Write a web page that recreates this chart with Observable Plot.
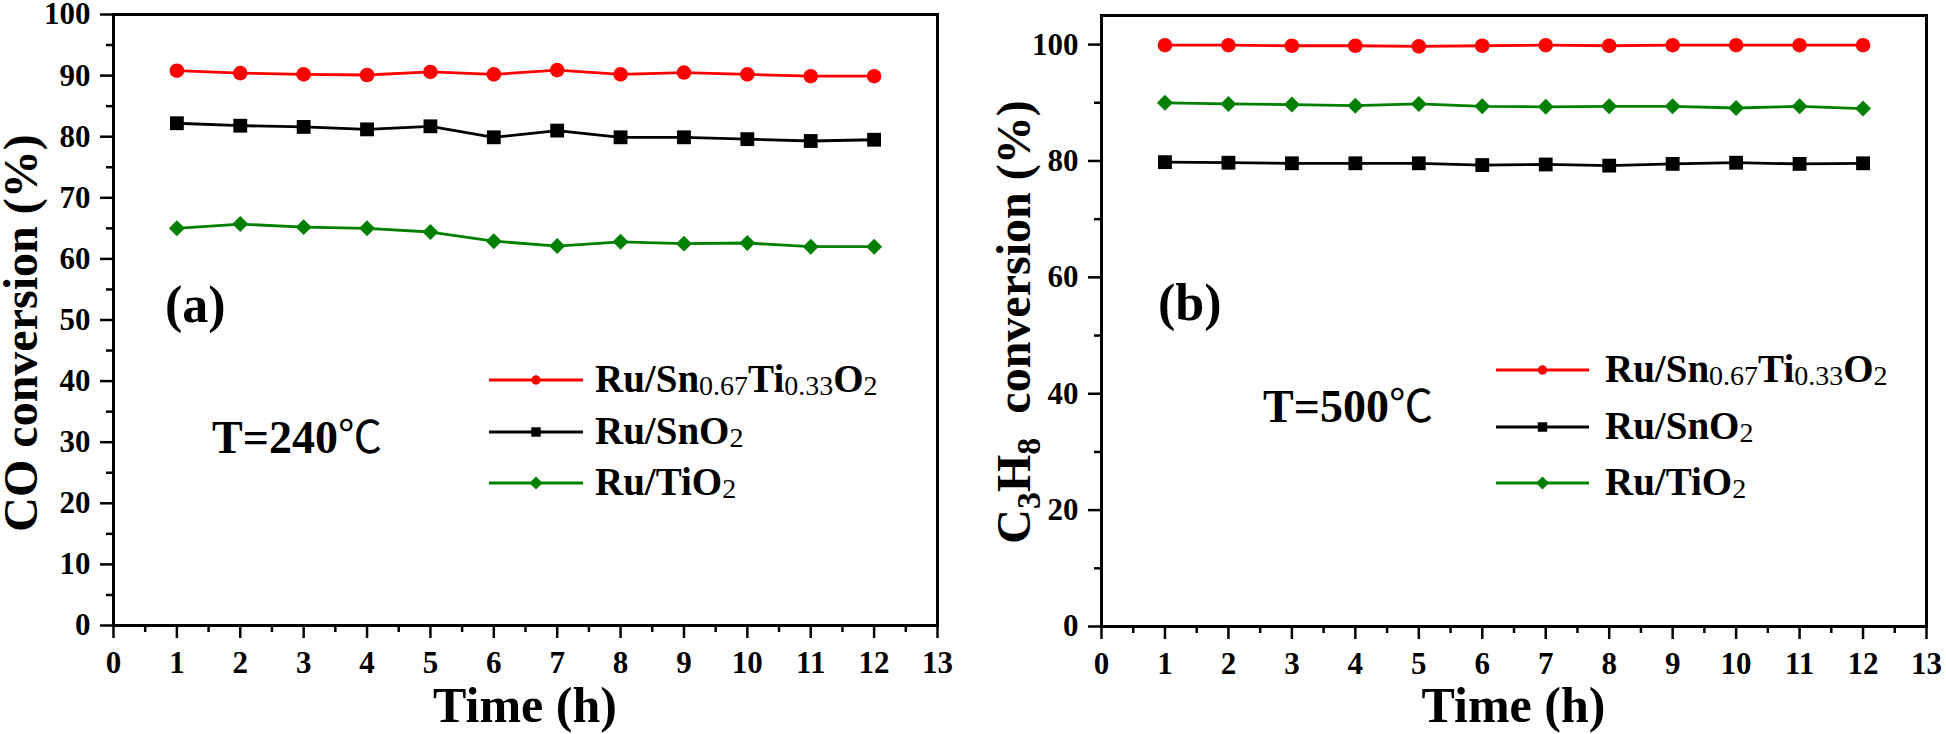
<!DOCTYPE html>
<html><head><meta charset="utf-8">
<script src="https://cdn.jsdelivr.net/npm/d3@7"></script>
<script src="https://cdn.jsdelivr.net/npm/@observablehq/plot@0.6"></script>
<style>
body{margin:0;background:#fff;}
#wrap{display:flex;width:1946px;height:734px;overflow:hidden;}
svg text{font-family:"Liberation Serif","Times New Roman",serif;}
</style></head><body><div id="wrap"></div>
<script>
// ---- data ----
const hours = [1,2,3,4,5,6,7,8,9,10,11,12];
const seriesNames = ["Ru/Sn0.67Ti0.33O2","Ru/SnO2","Ru/TiO2"];
// panel (a): CO conversion at 240 ℃
const coRuSnTi = [90.8,90.4,90.2,90.1,90.6,90.2,90.9,90.2,90.5,90.2,89.9,89.9];
const coRuSn   = [82.2,81.8,81.6,81.2,81.7,79.9,81.0,79.9,79.9,79.6,79.3,79.5];
const coRuTi   = [65.0,65.7,65.2,65.0,64.4,62.9,62.1,62.8,62.5,62.6,62.0,62.0];
// panel (b): C3H8 conversion at 500 ℃
const c3RuSnTi = [99.9,99.9,99.8,99.8,99.7,99.8,99.9,99.8,99.9,99.9,99.9,99.9];
const c3RuSn   = [79.8,79.7,79.6,79.6,79.6,79.3,79.4,79.2,79.5,79.7,79.5,79.6];
const c3RuTi   = [90.0,89.8,89.7,89.5,89.8,89.4,89.3,89.4,89.4,89.1,89.4,89.0];
// ticks
const xTicks = [0,1,2,3,4,5,6,7,8,9,10,11,12,13];
const xMinorTicks = [0.5,1.5,2.5,3.5,4.5,5.5,6.5,7.5,8.5,9.5,10.5,11.5,12.5];
const yTicksA = [0,10,20,30,40,50,60,70,80,90,100];
const yMinorA = [5,15,25,35,45,55,65,75,85,95];
const yTicksB = [0,20,40,60,80,100];
const yMinorB = [10,30,50,70,90];
// texts
const yLabelA = "CO conversion (%)";
const tempA = ["T=240","℃"], tempB = ["T=500","℃"];
const xLabel = "Time (h)";

// ---- styles ----
const seriesStyles = [
  {color:"#ff0000", symbol:"circle", r:7.3, legSym:d3.symbolCircle, legSize:70},
  {color:"#000000", symbol:"square", r:7.8, legSym:d3.symbolSquare, legSize:90},
  {color:"#008000", symbol:"diamond2", r:7.2, legSym:d3.symbolDiamond2, legSize:110}
];
const W = 973, H = 734;

function makePanel(cfg){
  const marks = [
    Plot.axisX({ticks:xTicks, tickSize:13, tickPadding:12, strokeWidth:2.5, fontSize:31, label:null, tickFormat:d=>d}),
    Plot.axisX({ticks:xMinorTicks, tickSize:7, strokeWidth:2.5, label:null, tickFormat:()=>""}),
    Plot.axisY({ticks:cfg.yTicks, tickSize:13, tickPadding:10, strokeWidth:2.5, fontSize:31, label:null, tickFormat:d=>d}),
    Plot.axisY({ticks:cfg.yMinor, tickSize:7, strokeWidth:2.5, label:null, tickFormat:()=>""})
  ];
  cfg.series.forEach((vals,i)=>{
    const s = seriesStyles[i];
    const data = hours.map((h,j)=>({hour:h, value:vals[j], series:seriesNames[i]}));
    marks.push(Plot.line(data,{x:"hour", y:"value", stroke:s.color, strokeWidth:2.8}));
    marks.push(Plot.dot(data,{x:"hour", y:"value", symbol:s.symbol, fill:s.color, stroke:"none", r:s.r}));
  });
  marks.push(Plot.frame({stroke:"#000", strokeWidth:3}));
  const svg = Plot.plot({
    width:W, height:H,
    marginLeft:cfg.ml, marginRight:cfg.mr, marginTop:cfg.mt, marginBottom:cfg.mb,
    x:{domain:[0,13]}, y:{domain:cfg.yDomain},
    style:{fontFamily:'"Liberation Serif","Times New Roman",serif', fontWeight:"bold", color:"#000", background:"#fff", overflow:"visible"},
    marks
  });
  const g = d3.select(svg);
  // y label
  const yl = g.append("text")
    .attr("transform",`translate(${cfg.ylx},${cfg.yly}) rotate(-90)`)
    .attr("text-anchor","middle").attr("font-size",48).attr("font-weight","bold");
  cfg.yLabelParts.forEach(p=>{
    const t = yl.append("tspan").text(p.t);
    if(p.sub){ t.attr("font-size",34).attr("dy",10); }
    else if(p.after){ t.attr("dy",-10); }
  });
  // x label
  g.append("text").attr("x",(cfg.ml + W - cfg.mr)/2).attr("y",722)
    .attr("text-anchor","middle").attr("font-size",50).attr("font-weight","bold").text(xLabel);
  // panel tag
  g.append("text").attr("x",cfg.tagX).attr("y",cfg.tagY).attr("text-anchor","start")
    .attr("font-size",52).attr("font-weight","bold").text(cfg.tag);
  // temperature
  const tt = g.append("text").attr("x",cfg.tX).attr("y",cfg.tY).attr("text-anchor","start")
    .attr("font-size",46).attr("font-weight","bold");
  tt.append("tspan").text(cfg.temp[0]);
  tt.append("tspan").text(cfg.temp[1]).attr("font-weight","normal")
    .style("font-family",'"Noto Sans CJK SC","DejaVu Serif",serif').attr("font-size",44);
  // legend
  seriesStyles.forEach((s,i)=>{
    const y = cfg.legY[i];
    g.append("line").attr("x1",cfg.legX0).attr("x2",cfg.legX1).attr("y1",y).attr("y2",y)
      .attr("stroke",s.color).attr("stroke-width",2.8);
    g.append("path").attr("d",d3.symbol(s.legSym,s.legSize)()).attr("fill",s.color)
      .attr("transform",`translate(${(cfg.legX0+cfg.legX1)/2},${y})`);
    const tx = g.append("text").attr("x",cfg.legTX).attr("y",y+12).attr("text-anchor","start")
      .attr("font-size",39).attr("font-weight","bold");
    const parts = seriesNames[i].split(/(\d+(?:\.\d+)?)/).filter(p=>p!=="");
    parts.forEach((p,k)=>{
      const isNum = /^\d/.test(p);
      const t = tx.append("tspan").text(p);
      if(isNum){ t.attr("font-size",28).attr("font-weight","normal").attr("dy",3); }
      else if(k>0){ t.attr("dy",-3); }
    });
  });
  return svg;
}

const wrap = document.getElementById("wrap");
wrap.appendChild(makePanel({
  ml:113, mr:36, mt:14, mb:109, yDomain:[0,100], yTicks:yTicksA, yMinor:yMinorA,
  series:[coRuSnTi, coRuSn, coRuTi],
  ylx:37, yly:333, yLabelParts:[{t:yLabelA}],
  tag:"(a)", tagX:165, tagY:322, temp:tempA, tX:212, tY:453,
  legX0:489, legX1:583, legY:[380,432,483], legTX:595
}));
wrap.appendChild(makePanel({
  ml:128, mr:20, mt:15, mb:108, yDomain:[0,105], yTicks:yTicksB, yMinor:yMinorB,
  series:[c3RuSnTi, c3RuSn, c3RuTi],
  ylx:57, yly:322, yLabelParts:[{t:"C"},{t:"3",sub:true},{t:"H",after:true},{t:"8",sub:true},{t:"\u00a0\u00a0conversion (%)",after:true}],
  tag:"(b)", tagX:185, tagY:320, temp:tempB, tX:290, tY:422,
  legX0:523, legX1:616, legY:[370,427,483], legTX:632
}));
</script></body></html>
